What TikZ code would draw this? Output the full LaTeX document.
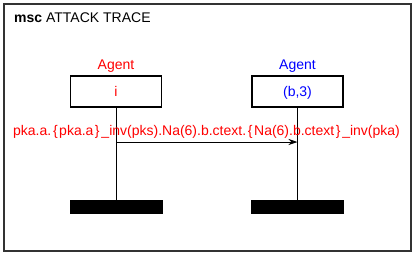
\documentclass[tikz,border=0pt]{standalone}
\usepackage{fontspec}
\setmainfont{Liberation Sans}
\usetikzlibrary{arrows.meta}
\definecolor{msgred}{RGB}{255,0,0}
\definecolor{agblue}{RGB}{0,0,255}
\newcommand{\lbr}{\hspace{1.8pt}\{\hspace{1.5pt}}
\newcommand{\rbr}{\hspace{1.5pt}\}\hspace{1.8pt}}
\begin{document}
\begin{tikzpicture}[x=1pt,y=-1pt,
  lbl/.style={font=\fontsize{14}{16}\selectfont, inner sep=0pt, anchor=base},
  agentbox/.style={draw, line width=1.2pt, minimum width=91pt, minimum height=31pt, inner sep=0pt},
  stopbar/.style={fill=black, draw=black, minimum width=92pt, minimum height=13pt, inner sep=0pt},
  lifeline/.style={line width=1pt},
  msgarrow/.style={line width=1pt, -{Stealth[length=9pt,width=6pt]}}]
  \useasboundingbox (0,0) rectangle (414,255);
  % frame and title
  \draw[line width=2pt, black!80] (4,4) rectangle (410.5,251);
  \node[lbl, anchor=base west] (title) at (14,22) {\textbf{msc} ATTACK TRACE};
  % instances
  \node[agentbox] (ai) at (116,91.5) {};
  \node[lbl, msgred] (ait) at (116,96) {i};
  \node[lbl, msgred] (ail) at (116,69) {Agent};
  \node[agentbox] (ab) at (297.5,91.5) {};
  \node[lbl, agblue] (abt) at (297.5,96) {(b,3)};
  \node[lbl, agblue] (abl) at (297.5,69) {Agent};
  % instance ends
  \node[stopbar] (ei) at (116,206.5) {};
  \node[stopbar] (eb) at (297.5,206.5) {};
  \draw[lifeline] (ai.south) -- (ei.north);
  \draw[lifeline] (ab.south) -- (eb.north);
  % message
  \coordinate (mi) at (116,142);
  \coordinate (mb) at (297.5,142);
  \draw[msgarrow] (mi) -- (mb);
  \node[lbl, msgred] (msg) at (206.5,135) {pka.a.\lbr pka.a\rbr\_inv(pks).Na(6).b.ctext.\lbr Na(6).b.ctext\rbr\_inv(pka)};
\end{tikzpicture}
\end{document}
